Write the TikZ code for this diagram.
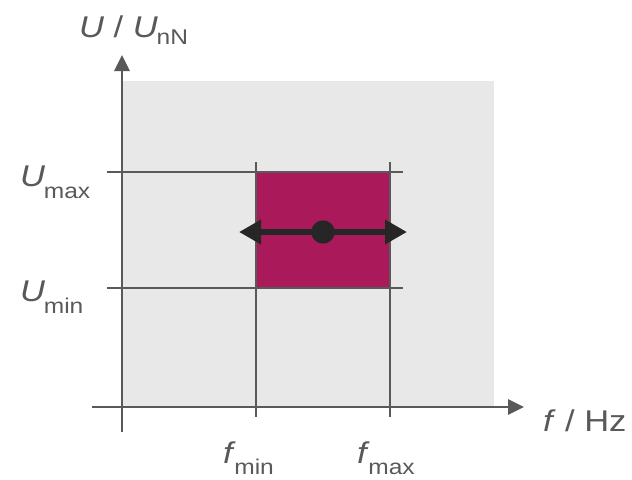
\documentclass[tikz,border=0pt]{standalone}
\usepackage{fontspec}
\setmainfont{Liberation Sans}
\usetikzlibrary{arrows.meta}
\definecolor{bggray}{HTML}{E8E8E8}
\definecolor{linegray}{HTML}{595959}
\definecolor{boxred}{HTML}{AA1A5A}
\definecolor{arrowblack}{HTML}{262626}
\newcommand{\mylbl}[3]{\textit{#1}\kern-0.8pt{\fontsize{16}{16}\selectfont\raisebox{-#3}{#2}}}
\begin{document}
\begin{tikzpicture}[x=0.75pt,y=-0.75pt,
  lbl/.style={anchor=base west, inner sep=0pt, outer sep=0pt, text=linegray,
    font=\fontsize{22.5}{22.5}\selectfont, xscale=1.15},
  gridline/.style={draw=linegray, line width=1.5pt},
  axisline/.style={draw=linegray, line width=1.5pt, -{Triangle[length=12pt,width=11.5pt]}},
  shiftarrow/.style={draw=arrowblack, line width=5pt, {Triangle[length=16.5pt,width=17.5pt]}-{Triangle[length=16.5pt,width=17.5pt]}}
]
\useasboundingbox (0,0) rectangle (632,479);
% background area
\fill[bggray] (122,81) rectangle (494,407);
% operating region
\fill[boxred] (256,172) rectangle (390,288);
% named coordinates
\coordinate (umaxL) at (107,172); \coordinate (umaxR) at (403,172);
\coordinate (uminL) at (107,288); \coordinate (uminR) at (403,288);
\coordinate (fminT) at (256,162); \coordinate (fminB) at (256,417);
\coordinate (fmaxT) at (390,162); \coordinate (fmaxB) at (390,417);
\coordinate (yB) at (122,432); \coordinate (yT) at (122,55);
\coordinate (xL) at (92,407); \coordinate (xR) at (524,407);
\coordinate (aL) at (239,232); \coordinate (aR) at (407,232);
% grid lines
\draw[gridline] (umaxL) -- (umaxR);
\draw[gridline] (uminL) -- (uminR);
\draw[gridline] (fminT) -- (fminB);
\draw[gridline] (fmaxT) -- (fmaxB);
% axes
\draw[axisline] (yB) -- (yT);
\draw[axisline] (xL) -- (xR);
% shift arrow and operating point
\draw[shiftarrow] (aL) -- (aR);
\node[circle, fill=arrowblack, minimum size=17.5pt, inner sep=0pt] (op) at (323,232) {};
% labels
\node[lbl] (ylab) at (79,37) {\textit{U} / \mylbl{U}{nN}{5.8pt}};
\node[lbl] (umax) at (20,186) {\mylbl{U}{max}{9pt}};
\node[lbl] (umin) at (20,301) {\mylbl{U}{min}{9pt}};
\node[lbl] (fmin) at (223,463) {\mylbl{f}{min}{8.5pt}};
\node[lbl] (fmax) at (357,463) {\mylbl{f}{max}{8.5pt}};
\node[lbl] (xlab) at (543,431) {\textit{f} / Hz};
\end{tikzpicture}
\end{document}
